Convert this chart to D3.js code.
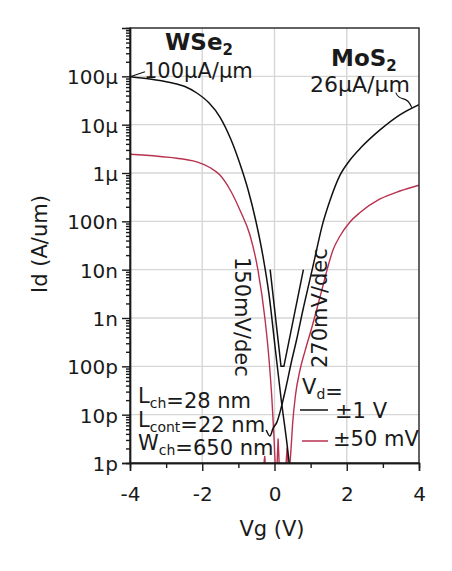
<!DOCTYPE html>
<html>
<head>
<meta charset="utf-8">
<script src="https://d3js.org/d3.v7.min.js"></script>
<style>
    body { margin:0; background:#fff; }
    text { font-family:"DejaVu Sans", sans-serif; fill:#1a1a1a; }
    .axis path, .axis line { stroke:#1a1a1a; stroke-width:1.4; }
    .grid line { stroke:#d6d6d6; stroke-width:1.4; }
</style>
</head>
<body>
<svg id="chart" width="452" height="571"></svg>
<script>
// WSe2 branch, Vd = ±1 V (black)
var vgWSe2Hi = [-4, -3.45, -2.89, -2.48, -2.15, -1.81, -1.51, -1.2, -0.955, -0.73, -0.51, -0.32, -0.15, 0.01, 0.18, 0.35, 0.43];
var idWSe2Hi = [9.8e-5, 8.8e-5, 7.45e-5, 6.16e-5, 4.52e-5, 2.8e-5, 1.44e-5, 4.8e-6, 1.53e-6, 4.44e-7, 9.7e-8, 1.91e-8, 3.0e-9, 2.76e-10, 2.21e-11, 2.35e-12, 7.2e-13];

// MoS2 branch, Vd = ±1 V (black)
var vgMoS2Hi = [-0.23, -0.125, -0.04, 0.07, 0.17, 0.3, 0.48, 0.61, 0.79, 0.98, 1.12, 1.31, 1.54, 1.81, 2.1, 2.4, 2.92, 3.47, 4];
var idMoS2Hi = [4.8e-12, 3.6e-12, 5.2e-12, 7.1e-12, 1.26e-11, 3.2e-11, 1.35e-10, 3.5e-10, 1.5e-9, 6.2e-9, 1.8e-8, 7.6e-8, 2.75e-7, 8.9e-7, 1.9e-6, 3.4e-6, 7.8e-6, 1.6e-5, 2.6e-5];

// WSe2 branch, Vd = ±50 mV (red)
var vgWSe2Lo = [-4, -2.9, -2.15, -1.79, -1.51, -1.23, -0.955, -0.68, -0.46, -0.26, -0.15, -0.07, -0.01, 0.03];
var idWSe2Lo = [2.45e-6, 2.1e-6, 1.7e-6, 1.3e-6, 9.1e-7, 4.5e-7, 1.7e-7, 5.2e-8, 1.0e-8, 9.1e-10, 1.35e-10, 2.0e-11, 3.0e-12, 6e-13];

// MoS2 branch, Vd = ±50 mV (red)
var vgMoS2Lo = [0.4, 0.45, 0.5, 0.58, 0.706, 0.844, 1.038, 1.176, 1.315, 1.453, 1.619, 1.813, 2.09, 2.367, 2.92, 3.47, 4];
var idMoS2Lo = [6e-13, 1.6e-12, 6.3e-12, 2.5e-11, 8.4e-11, 2.07e-10, 6.5e-10, 1.57e-9, 3.9e-9, 9.8e-9, 2.55e-8, 4.97e-8, 9.7e-8, 1.52e-7, 2.9e-7, 4.24e-7, 5.6e-7];

// noise floor of the 50 mV sweep
var vgNoise = [-0.32, -0.27, -0.24, -0.12, -0.09, -0.06, 0.06, 0.1, 0.14, 0.3, 0.35, 0.39];
var idNoise = [6e-13, 1.4e-12, 6e-13, 6e-13, 1.0e-12, 6e-13, 6e-13, 3.2e-12, 6e-13, 6e-13, 2.1e-12, 6e-13];

// subthreshold slope guides (150 mV/dec and 270 mV/dec)
var vgSlope = [-0.12, 0.18, 0.26, 0.80];
var idSlope = [1e-8, 1e-10, 1e-10, 1e-8];

var xTicks = [-4, -2, 0, 2, 4];
var xMinorTicks = [-3, -1, 1, 3];
var yTicks = [1e-4, 1e-5, 1e-6, 1e-7, 1e-8, 1e-9, 1e-10, 1e-11, 1e-12];
var yTickLabels = ["100µ", "10µ", "1µ", "100n", "10n", "1n", "100p", "10p", "1p"];

var red = "#b8324f";
var plotL = 130, plotR = 419, plotT = 28, plotB = 463;

var svg = d3.select("#chart");
var x = d3.scaleLinear().domain([-4, 4]).range([plotL, plotR]);
var y = d3.scaleLog().domain([1e-12, 1e-3]).range([plotB, plotT]);

// grid
var grid = svg.append("g").attr("class", "grid");
grid.selectAll("line.v").data([-2, 0, 2]).enter().append("line")
    .attr("x1", function(d){ return x(d); }).attr("x2", function(d){ return x(d); })
    .attr("y1", plotT).attr("y2", plotB);
grid.selectAll("line.h").data(yTicks.slice(0, 8)).enter().append("line")
    .attr("x1", plotL).attr("x2", plotR)
    .attr("y1", function(d){ return y(d); }).attr("y2", function(d){ return y(d); });

// curves
svg.append("clipPath").attr("id", "clip").append("rect")
    .attr("x", plotL).attr("y", plotT).attr("width", plotR - plotL).attr("height", plotB - plotT);
var plot = svg.append("g").attr("clip-path", "url(#clip)");

function series(vg, id) {
    return vg.map(function(v, i){ return [v, id[i]]; });
}
var smooth = d3.line().x(function(d){ return x(d[0]); }).y(function(d){ return y(d[1]); }).curve(d3.curveMonotoneX);
var straight = d3.line().x(function(d){ return x(d[0]); }).y(function(d){ return y(d[1]); });

plot.append("path").attr("d", straight(series(vgNoise, idNoise)))
    .attr("fill", "none").attr("stroke", red).attr("stroke-width", 1.4);
plot.append("path").attr("d", smooth(series(vgWSe2Lo, idWSe2Lo)))
    .attr("fill", "none").attr("stroke", red).attr("stroke-width", 1.4);
plot.append("path").attr("d", smooth(series(vgMoS2Lo, idMoS2Lo)))
    .attr("fill", "none").attr("stroke", red).attr("stroke-width", 1.4);
plot.append("path").attr("d", smooth(series(vgWSe2Hi, idWSe2Hi)))
    .attr("fill", "none").attr("stroke", "#111").attr("stroke-width", 1.5);
plot.append("path").attr("d", smooth(series(vgMoS2Hi, idMoS2Hi)))
    .attr("fill", "none").attr("stroke", "#111").attr("stroke-width", 1.5);
plot.append("path").attr("d", straight(series(vgSlope, idSlope)))
    .attr("fill", "none").attr("stroke", "#111").attr("stroke-width", 1.5);

// frame
svg.append("rect").attr("x", plotL).attr("y", plotT).attr("width", plotR - plotL).attr("height", plotB - plotT)
    .attr("fill", "none").attr("stroke", "#222").attr("stroke-width", 1.4);

// axes
var minor = [];
for (var e = -12; e < -3; e++) {
    for (var k = 2; k < 10; k++) minor.push(k * Math.pow(10, e));
}
svg.append("g").attr("class", "axis").attr("transform", "translate(" + plotL + ",0)")
    .call(d3.axisLeft(y).tickValues(minor).tickSize(4).tickFormat(""));
var yAxis = svg.append("g").attr("class", "axis").attr("transform", "translate(" + plotL + ",0)")
    .call(d3.axisLeft(y).tickValues(yTicks).tickSize(8).tickPadding(4)
        .tickFormat(function(d, i){ return yTickLabels[i]; }));
yAxis.selectAll("text").attr("dy", "0.38em").style("font-size", "20px");

svg.append("g").attr("class", "axis").attr("transform", "translate(0," + plotB + ")")
    .call(d3.axisBottom(x).tickValues(xMinorTicks).tickSize(5).tickFormat(""));
var xAxis = svg.append("g").attr("class", "axis").attr("transform", "translate(0," + plotB + ")")
    .call(d3.axisBottom(x).tickValues(xTicks).tickSize(8).tickPadding(16)
        .tickFormat(function(d){ return String(d); }));
xAxis.selectAll("text").style("font-size", "20px");
svg.selectAll(".axis text").style("fill", "#1a1a1a").style("font-family", "DejaVu Sans, sans-serif");

// axis titles
svg.append("text").attr("transform", "translate(47,244) rotate(-90)")
    .attr("text-anchor", "middle").style("font-size", "21px").text("Id (A/um)");
svg.append("text").attr("x", 272).attr("y", 536)
    .attr("text-anchor", "middle").style("font-size", "21px").text("Vg (V)");

// helper for text with subscripts
function label(px, py, parts, size, weight) {
    var t = svg.append("text").attr("x", px).attr("y", py)
        .style("font-size", size + "px").style("font-weight", weight || "normal");
    parts.forEach(function(p){
        if (p.sub) {
            t.append("tspan").attr("dy", 5).style("font-size", Math.round(size * 0.66) + "px").text(p.sub);
            t.append("tspan").attr("dy", -5).text("");
        } else {
            t.append("tspan").text(p.t);
        }
    });
    return t;
}

label(165, 50, [{t:"WSe"}, {sub:"2"}], 23, "bold");
label(144, 78, [{t:"100µA/µm"}], 21);
label(331, 66, [{t:"MoS"}, {sub:"2"}], 23, "bold");
label(310, 92, [{t:"26µA/µm"}], 22);

// leaders from the on-current labels to the curves
var w0 = [x(-4), y(idWSe2Hi[0])];
svg.append("path").attr("d", "M" + w0[0] + "," + w0[1] + " L" + (w0[0] + 15) + "," + (w0[1] - 5))
    .attr("fill", "none").attr("stroke", "#111").attr("stroke-width", 1.1);
var m0 = [x(3.8), y(2.25e-5)];
svg.append("path").attr("d", "M" + (m0[0] - 16) + "," + (m0[1] - 15) +
        " q2,5 7,6 q6,1 9,9")
    .attr("fill", "none").attr("stroke", "#111").attr("stroke-width", 1.1);

// slope annotations
svg.append("text").attr("transform", "translate(235,257) rotate(90)")
    .style("font-size", "21px").text("150mV/dec");
svg.append("text").attr("transform", "translate(327,368) rotate(-90)")
    .style("font-size", "21px").text("270mV/dec");

// device geometry
label(138, 403, [{t:"L"}, {sub:"ch"}, {t:"=28 nm"}], 21);
label(138, 427, [{t:"L"}, {sub:"cont"}, {t:"=22 nm"}], 21);
label(138, 450, [{t:"W"}, {sub:"ch"}, {t:"=650 nm"}], 21);

// legend
label(302, 394, [{t:"V"}, {sub:"d"}, {t:"="}], 21);
svg.append("line").attr("x1", 300).attr("x2", 328).attr("y1", 410).attr("y2", 410)
    .attr("stroke", "#111").attr("stroke-width", 1.5);
svg.append("text").attr("x", 335).attr("y", 418).style("font-size", "21px").text("±1 V");
svg.append("line").attr("x1", 302).attr("x2", 328).attr("y1", 441).attr("y2", 441)
    .attr("stroke", red).attr("stroke-width", 1.5);
svg.append("text").attr("x", 333).attr("y", 446).style("font-size", "21px").text("±50 mV");
</script>
</body>
</html>
